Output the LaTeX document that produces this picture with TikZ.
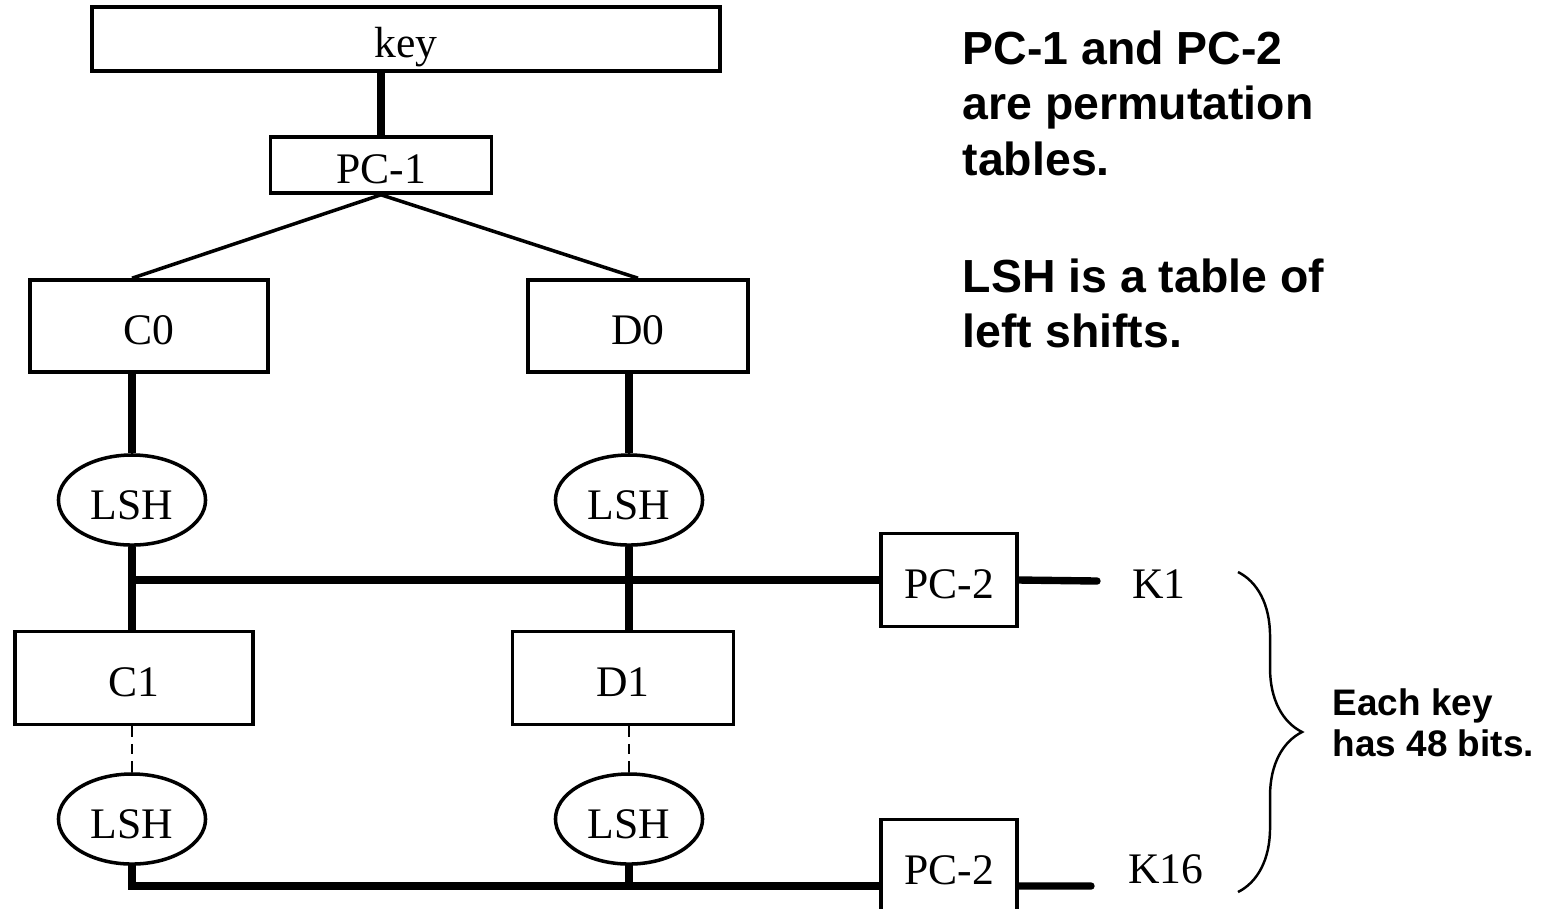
\documentclass[tikz,border=0pt]{standalone}
\usepackage{fontspec}
\setmainfont{Liberation Serif}
\setsansfont{Liberation Sans}
\usetikzlibrary{shapes.geometric,decorations.pathreplacing}
\tikzset{>=latex}
\tikzset{
  box/.style={draw,line width=1pt,inner sep=0pt,
    text height=0.36cm,text depth=0cm,
    font=\fontsize{12.4}{14}\selectfont},
  shifter/.style={draw,ellipse,line width=1pt,inner sep=0pt,
    minimum width=1.47cm,minimum height=0.9cm,
    text height=0.38cm,text depth=0cm,
    font=\fontsize{12.4}{14}\selectfont},
  subkey/.style={inner sep=0pt,font=\fontsize{12.4}{14}\selectfont},
  bus/.style={line width=2.1pt},
  fork/.style={line width=1pt},
  note/.style={anchor=north west,inner sep=0pt,align=left,
    font=\sffamily\bfseries\fontsize{13.2}{15.8}\selectfont},
}

\begin{document}
\begin{tikzpicture}[x=0.01cm,y=-0.01cm]
\useasboundingbox (0,0) rectangle (1549,908);
% key and first permutation
\node[box,minimum width=6.28cm,minimum height=0.64cm] (key) at (406,39) {key};
\node[box,minimum width=2.21cm,minimum height=0.56cm] (pc1) at (381,165) {PC-1};
% halves
\node[box,minimum width=2.38cm,minimum height=0.92cm] (c0) at (149,326) {C0};
\node[box,minimum width=2.20cm,minimum height=0.92cm] (d0) at (638,326) {D0};
\node[box,minimum width=2.38cm,minimum height=0.93cm] (c1) at (134,678) {C1};
\node[box,minimum width=2.21cm,minimum height=0.93cm] (d1) at (623,678) {D1};
% shifts
\node[shifter] (lshc0) at (132,500) {LSH};
\node[shifter] (lshd0) at (629,500) {LSH};
\node[shifter] (lshc1) at (132,819) {LSH};
\node[shifter] (lshd1) at (629,819) {LSH};
% second permutation and subkeys
\node[box,minimum width=1.36cm,minimum height=0.93cm] (pc2a) at (949,580) {PC-2};
\node[box,minimum width=1.36cm,minimum height=0.93cm] (pc2b) at (949,866) {PC-2};
\node[subkey] (k1) at (1159,584) {K1};
\node[subkey] (k16) at (1166,869) {K16};
\coordinate (k1end) at (1097,581);
\coordinate (k16in) at ([yshift=-0.2cm]pc2b.west);
\coordinate (k16end) at (1091,886);

% wiring
\draw[bus] (pc1.north) -- (pc1.north |- key.south);
\draw[fork] (pc1.south) -- (lshc0.north |- c0.north);
\draw[fork] (pc1.south) -- (d0.north);
\draw[bus] (lshc0.north |- c0.south) -- (lshc0.north);
\draw[bus] (lshd0.north |- d0.south) -- (lshd0.north);
\draw[bus] (lshc0.south) -- (lshc0.south |- c1.north);
\draw[bus] (lshd0.south) -- (lshd0.south |- d1.north);
\draw[bus] (lshc0.south |- pc2a.west) -- (pc2a.west);
\draw[bus,line cap=round] (pc2a.east) -- (k1end);
\draw[fork,line width=0.7pt,dash pattern=on 3pt off 2pt] (lshc1.north |- c1.south) -- (lshc1.north);
\draw[fork,line width=0.7pt,dash pattern=on 3pt off 2pt] (lshd1.north |- d1.south) -- (lshd1.north);
\draw[bus] (lshc1.south) |- (k16in);
\draw[bus] (lshd1.south) -- (lshd1.south |- k16in);
\draw[bus,line cap=round] (k16in -| pc2b.east) -- (k16end);

% brace over the subkeys
\coordinate (bracetop) at (1238,572);
\coordinate (bracebot) at (1238,892);
\draw[line width=0.7pt,decorate,decoration={brace,amplitude=0.64cm}] (bracetop) -- (bracebot);

% notes
\node[note] (tables) at (962,30) {PC-1 and PC-2\\are permutation\\tables.};
\node[note] (shifts) at (962,258) {LSH is a table of\\left shifts.};
\node[note,font=\sffamily\bfseries\fontsize{10.5}{11.7}\selectfont] (bits) at (1332,688) {Each key\\has 48 bits.};
\end{tikzpicture}
\end{document}
